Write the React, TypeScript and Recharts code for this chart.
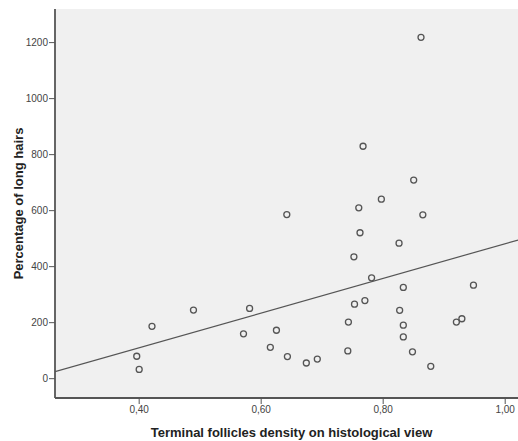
import {
  ScatterChart, Scatter, XAxis, YAxis, CartesianGrid, ReferenceLine, Label,
} from 'recharts';

// terminal follicles density (x) vs percentage of long hairs (y)
const densities = [
  0.396, 0.4, 0.421, 0.489, 0.571, 0.581, 0.615, 0.625, 0.643, 0.642,
  0.674, 0.692, 0.742, 0.743, 0.752, 0.753, 0.76, 0.762, 0.767, 0.77,
  0.781, 0.797, 0.826, 0.827, 0.833, 0.833, 0.833, 0.848, 0.85, 0.862,
  0.865, 0.878, 0.92, 0.929, 0.948,
];
const longHairs = [
  80, 33, 187, 245, 160, 251, 112, 173, 79, 586,
  56, 70, 99, 202, 435, 266, 610, 521, 830, 279,
  360, 641, 484, 244, 326, 191, 149, 96, 709, 1219,
  585, 44, 202, 214, 334,
];

// fit line end points, read at the plot edges
const fitX = [0.262, 1.021];
const fitY = [25, 495];

const xTicks = [0.4, 0.6, 0.8, 1.0];
const yTicks = [0, 200, 400, 600, 800, 1000, 1200];
const xDomain = [0.262, 1.021];
const yDomain = [-69, 1320];

const points = densities.map((x, i) => ({ x, y: longHairs[i] }));

const font = '"Liberation Sans", Arial, sans-serif';
const tickStyle = { fontSize: 10, fill: '#444', fontFamily: font };

const Ring = (props: any) => (
  <circle cx={props.cx} cy={props.cy} r={3} fill="none" stroke="#555" strokeWidth={1.3} />
);

export default function App() {
  return (
    <div style={{ position: 'absolute', left: 0, top: 0, background: '#fff' }}>
      <ScatterChart width={518} height={441} margin={{ top: 9, right: 0, bottom: 0, left: 0 }}>
        <CartesianGrid horizontal={false} vertical={false} fill="#F0F0F0" />
        <XAxis
          xAxisId="top"
          orientation="top"
          type="number"
          dataKey="x"
          domain={xDomain}
          height={0}
          tick={false}
          tickLine={false}
          axisLine={{ stroke: '#8a8a8a', strokeWidth: 1.5 }}
        />
        <XAxis
          type="number"
          dataKey="x"
          domain={xDomain}
          ticks={xTicks}
          allowDataOverflow
          height={43}
          tickFormatter={(v: number) => v.toFixed(2).replace('.', ',')}
          tick={tickStyle}
          tickSize={6}
          tickMargin={2}
          tickLine={{ stroke: '#555' }}
          axisLine={{ stroke: '#555', strokeWidth: 1.8 }}
        >
          <Label
            value="Terminal follicles density on histological view"
            position="insideBottom"
            offset={4}
            dx={5}
            style={{ fontSize: 13, fontWeight: 'bold', fill: '#222', fontFamily: font }}
          />
        </XAxis>
        <YAxis
          type="number"
          dataKey="y"
          domain={yDomain}
          ticks={yTicks}
          allowDataOverflow
          width={55}
          tick={tickStyle}
          tickSize={6}
          tickMargin={1}
          tickLine={{ stroke: '#555' }}
          axisLine={{ stroke: '#555', strokeWidth: 1.8 }}
        >
          <Label
            value="Percentage of long hairs"
            angle={-90}
            position="insideLeft"
            offset={18}
            style={{ fontSize: 13, fontWeight: 'bold', fill: '#222', fontFamily: font, textAnchor: 'middle' }}
          />
        </YAxis>
        <ReferenceLine
          segment={[{ x: fitX[0], y: fitY[0] }, { x: fitX[1], y: fitY[1] }]}
          stroke="#555"
          strokeWidth={1.2}
          ifOverflow="hidden"
        />
        <Scatter data={points} shape={Ring} isAnimationActive={false} />
      </ScatterChart>
    </div>
  );
}
